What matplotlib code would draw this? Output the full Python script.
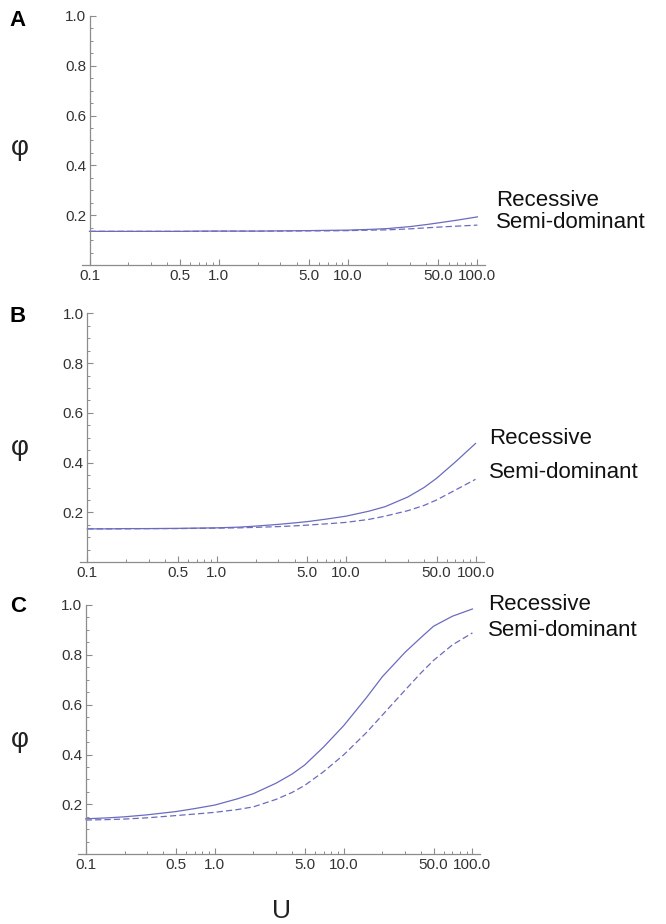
import matplotlib
matplotlib.use("Agg")
import matplotlib.pyplot as plt

plt.rcParams['font.family'] = ['Liberation Sans', 'DejaVu Sans']

U = [0.1, 0.15, 0.2, 0.3, 0.5, 0.7, 1, 1.5, 2, 3, 4, 5, 7, 10, 15, 20, 30, 40, 50, 70, 100]

# panel A
rec_A = [0.136, 0.136, 0.136, 0.136, 0.136, 0.137, 0.137, 0.137, 0.137, 0.138, 0.1385,
         0.139, 0.140, 0.141, 0.144, 0.147, 0.155, 0.163, 0.170, 0.181, 0.194]
semi_A = [0.136, 0.136, 0.136, 0.136, 0.136, 0.136, 0.137, 0.137, 0.137, 0.137, 0.1375,
          0.138, 0.138, 0.139, 0.141, 0.142, 0.146, 0.150, 0.153, 0.157, 0.161]
# panel B
rec_B = [0.134, 0.134, 0.135, 0.135, 0.136, 0.137, 0.138, 0.141, 0.145, 0.152, 0.158,
         0.163, 0.173, 0.185, 0.205, 0.223, 0.262, 0.300, 0.337, 0.403, 0.477]
semi_B = [0.134, 0.134, 0.134, 0.135, 0.135, 0.136, 0.137, 0.138, 0.140, 0.143, 0.146,
          0.149, 0.154, 0.160, 0.172, 0.185, 0.207, 0.228, 0.250, 0.290, 0.333]
# panel C
rec_C = [0.142, 0.146, 0.150, 0.158, 0.171, 0.183, 0.197, 0.222, 0.243, 0.285, 0.322,
         0.358, 0.430, 0.515, 0.627, 0.712, 0.810, 0.870, 0.915, 0.955, 0.984]
semi_C = [0.137, 0.139, 0.141, 0.146, 0.155, 0.161, 0.168, 0.179, 0.190, 0.220, 0.248,
          0.276, 0.331, 0.398, 0.487, 0.558, 0.658, 0.728, 0.778, 0.840, 0.888]

panel_letters = ['A', 'B', 'C']
series_names = ['Recessive', 'Semi-dominant']

xticks = [0.1, 0.5, 1, 5, 10, 50, 100]
xticklabels = ['0.1', '0.5', '1.0', '5.0', '10.0', '50.0', '100.0']
xminor = [0.2, 0.3, 0.4, 0.6, 0.7, 0.8, 0.9, 2, 3, 4, 6, 7, 8, 9,
          20, 30, 40, 60, 70, 80, 90]
yticks = [0.2, 0.4, 0.6, 0.8, 1.0]
yticklabels = ['0.2', '0.4', '0.6', '0.8', '1.0']
yminor = [0.05, 0.1, 0.15, 0.25, 0.3, 0.35, 0.45, 0.5, 0.55, 0.65, 0.7, 0.75,
          0.85, 0.9, 0.95]

W, H = 666, 924
line_col = '#6b6bbf'
axis_col = '#8c8c8c'
txt_col = '#333333'

fig = plt.figure(figsize=(W / 100, H / 100), dpi=100)

# pixel layout of each panel: x of U=0.1, px per decade, y of 0, y of 1
layout = [
    dict(x01=89.5, dec=129.3, y0=265.3, y1=15.7, let=21, phi=148, lab=(496, 200, 223)),
    dict(x01=87.3, dec=129.4, y0=562.2, y1=313.3, let=316, phi=448, lab=(489, 438, 472)),
    dict(x01=85.7, dec=128.9, y0=854.2, y1=605.0, let=606, phi=740, lab=(488, 605, 630)),
]
data = [(rec_A, semi_A), (rec_B, semi_B), (rec_C, semi_C)]


def fx(x):
    return x / W


def fy(y):
    return 1 - y / H


for i, (L, (rec, semi)) in enumerate(zip(layout, data)):
    left = L['x01'] - 7.5
    right = L['x01'] + 3 * L['dec'] + 8
    ax = fig.add_axes([fx(left), fy(L['y0']), (right - left) / W, (L['y0'] - L['y1']) / H])
    ax.set_xscale('log')
    ax.set_xlim(0.1 * 10 ** (-7.5 / L['dec']), 100 * 10 ** (8 / L['dec']))
    ax.set_ylim(0, 1)

    ax.plot(U, rec, color=line_col, lw=0.9, clip_on=False)
    ax.plot(U, semi, color=line_col, lw=0.9, ls=(0, (5, 2.5)), clip_on=False)

    for s in ['top', 'right']:
        ax.spines[s].set_visible(False)
    ax.spines['left'].set_position(('data', 0.1))
    ax.spines['left'].set_bounds(0, 1)
    for s in ['left', 'bottom']:
        ax.spines[s].set_color(axis_col)
        ax.spines[s].set_linewidth(0.9)

    ax.set_xticks(xticks)
    ax.set_xticklabels(xticklabels)
    ax.set_xticks(xminor, minor=True)
    ax.set_xticklabels([], minor=True)
    ax.set_yticks(yticks)
    ax.set_yticklabels(yticklabels)
    ax.set_yticks(yminor, minor=True)

    ax.tick_params(which='major', direction='in', length=4, width=0.8, color=axis_col,
                   labelsize=11, labelcolor=txt_col)
    ax.tick_params(which='minor', direction='in', length=2, width=0.7, color=axis_col)
    ax.tick_params(axis='x', which='major', pad=3)
    ax.tick_params(axis='y', which='major', pad=2.5)
    ax.patch.set_alpha(0)

    fig.text(fx(18), fy(L['let']), panel_letters[i], fontsize=16, fontweight='bold',
             ha='center', va='center', color='black')
    fig.text(fx(20), fy(L['phi']), 'φ', fontsize=20, ha='center', va='center', color='#222222')
    lx, ry, sy = L['lab']
    fig.text(fx(lx), fy(ry), series_names[0], fontsize=16, ha='left', va='center', color='#111111')
    fig.text(fx(lx), fy(sy), series_names[1], fontsize=16, ha='left', va='center', color='#111111')

fig.text(fx(282), fy(911), 'U', fontsize=19, ha='center', va='center', color='#222222')

fig.savefig('out.png', dpi=100)
